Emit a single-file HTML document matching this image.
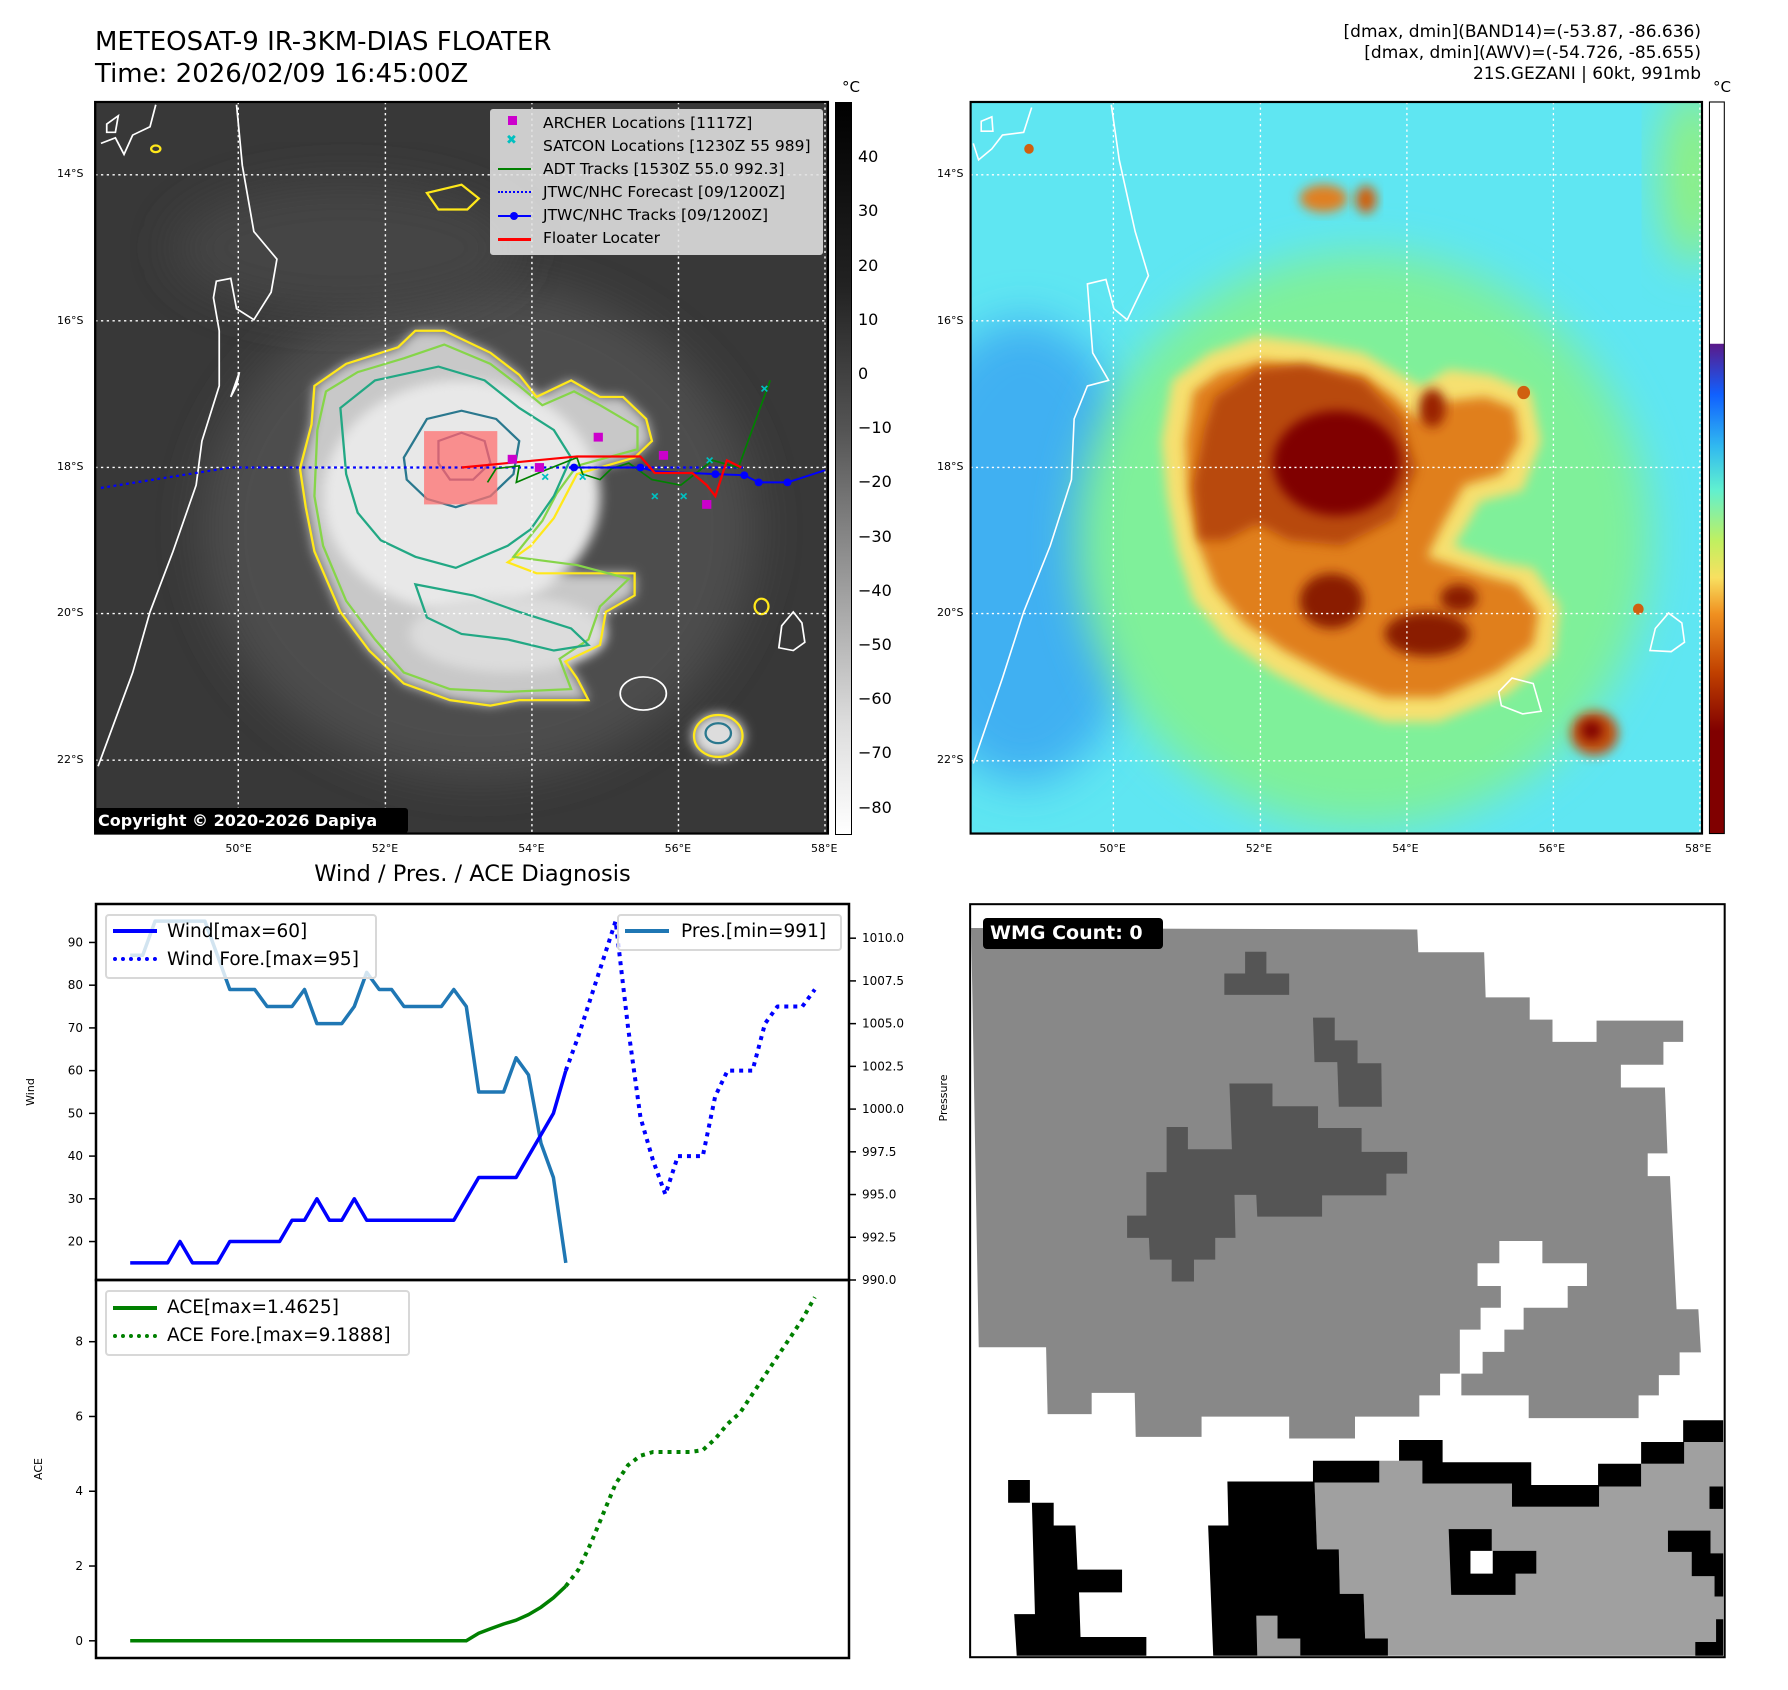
<!DOCTYPE html>
<html><head><meta charset="utf-8">
<style>
html,body{margin:0;padding:0;background:#fff;}
body{width:1788px;height:1690px;position:relative;overflow:hidden;font-family:"Liberation Sans","DejaVu Sans",sans-serif;color:#000;}
.abs{position:absolute;white-space:nowrap;}
.t{font-family:"DejaVu Sans","Liberation Sans",sans-serif;}
.lat{font-size:11px;}
.cbl{font-size:16px;}
</style></head><body>

<div class="abs t" style="left:95px;top:26px;font-size:26px;line-height:32px;">METEOSAT-9 IR-3KM-DIAS FLOATER<br>Time: 2026/02/09 16:45:00Z</div>
<div class="abs t" style="right:87px;top:22px;font-size:17px;line-height:21px;text-align:right;">[dmax, dmin](BAND14)=(-53.87, -86.636)<br>[dmax, dmin](AWV)=(-54.726, -85.655)<br>21S.GEZANI | 60kt, 991mb</div>

<!-- LEFT IR MAP -->
<svg class="abs" style="left:0;top:0" width="900" height="860" viewBox="0 0 1560 1560" preserveAspectRatio="none">
<defs>
<filter id="b1" x="-30%" y="-30%" width="160%" height="160%"><feGaussianBlur stdDeviation="40"/></filter>
<filter id="b2" x="-30%" y="-30%" width="160%" height="160%"><feGaussianBlur stdDeviation="10"/></filter>
<clipPath id="cl"><rect x="165" y="185" width="1270" height="1327"/></clipPath>
</defs>
<g clip-path="url(#cl)">
<rect x="165" y="185" width="1270" height="1327" fill="#383838"/>
<ellipse cx="830" cy="960" rx="480" ry="450" fill="#4e4e4e" filter="url(#b1)"/>
<ellipse cx="600" cy="450" rx="300" ry="120" fill="#444" filter="url(#b1)"/>
<path d="M545,700 L600,660 690,630 720,600 770,600 850,640 900,680 930,720 990,690 1040,720 1080,720 1120,760 1130,800 1100,830 1000,860 980,900 960,940 920,990 880,1020 930,1040 1000,1040 1100,1040 1100,1080 1050,1110 1040,1170 980,1200 1000,1230 1020,1270 900,1270 850,1280 780,1270 700,1240 640,1180 590,1110 545,1000 530,920 520,850 540,770Z" fill="#c8c8c8" filter="url(#b2)"/>
<ellipse cx="800" cy="900" rx="240" ry="210" fill="#e8e8e8" filter="url(#b2)"/>
<ellipse cx="880" cy="1150" rx="170" ry="70" fill="#dcdcdc" filter="url(#b2)"/>
<ellipse cx="1245" cy="1335" rx="45" ry="40" fill="#ddd" filter="url(#b2)"/>
<g fill="none" stroke-width="4">
<path d="M545,700 L600,660 690,630 720,600 770,600 850,640 900,680 930,720 990,690 1040,720 1080,720 1120,760 1130,800 1100,830 1000,860 980,900 960,940 920,990 880,1020 930,1040 1000,1040 1100,1040 1100,1080 1050,1110 1040,1170 980,1200 1000,1230 1020,1270 900,1270 850,1280 780,1270 700,1240 640,1180 590,1110 545,1000 530,920 520,850 540,770Z" stroke="#ffe81a"/>
<path d="M565,710 L620,675 700,650 770,625 850,660 900,700 940,735 995,710 1040,735 1105,775 1105,815 1000,845 965,895 940,945 890,1010 1000,1025 1090,1050 1040,1100 1020,1160 970,1195 990,1250 880,1255 780,1250 700,1220 650,1160 600,1090 560,990 545,900 550,780Z" stroke="#86d549"/>
<path d="M590,740 L650,690 760,665 840,690 900,740 960,780 990,830 960,900 920,960 880,990 790,1030 720,1010 660,980 620,930 600,860Z" stroke="#22a884"/>
<path d="M700,830 L740,760 800,745 860,760 900,800 890,860 850,900 790,920 740,905 705,870Z" stroke="#2a788e"/>
<path d="M760,800 L800,785 840,800 850,840 820,870 780,870 760,840Z" stroke="#414487"/>
<path d="M720,1060 L820,1080 900,1110 990,1140 1020,1170 960,1180 880,1160 800,1150 740,1120Z" stroke="#22a884"/>
<ellipse cx="1245" cy="1335" rx="42" ry="38" stroke="#ffe81a"/>
<ellipse cx="1245" cy="1330" rx="22" ry="18" stroke="#2a788e"/>
<path d="M740,350 L800,335 830,360 810,380 760,380Z" stroke="#ffe81a"/>
<ellipse cx="270" cy="270" rx="8" ry="6" stroke="#ffe81a"/>
<ellipse cx="1320" cy="1100" rx="12" ry="14" stroke="#ffe81a"/>
</g>
<g fill="none" stroke="#fff" stroke-width="3">
<path d="M170,1390 L230,1220 260,1110 300,1000 340,880 350,800 380,700 380,600 370,540 375,510 400,505 410,560 440,580 470,530 480,470 440,420 420,300 410,190"/>
<path d="M400,720 L415,675 410,700Z"/>
<ellipse cx="1115" cy="1258" rx="40" ry="30"/>
<path d="M1350,1175 L1355,1135 1375,1110 1390,1130 1395,1165 1375,1180Z"/>
<path d="M185,225 L205,210 200,240 185,240Z M175,260 L200,250 215,280 230,245 260,230 270,190"/>
</g>
<g stroke="#fff" stroke-width="2.5" stroke-dasharray="4,6">
<line x1="413" y1="185" x2="413" y2="1512"/><line x1="668" y1="185" x2="668" y2="1512"/><line x1="922" y1="185" x2="922" y2="1512"/><line x1="1176" y1="185" x2="1176" y2="1512"/><line x1="1430" y1="185" x2="1430" y2="1512"/>
<line x1="165" y1="317" x2="1435" y2="317"/><line x1="165" y1="582" x2="1435" y2="582"/><line x1="165" y1="848" x2="1435" y2="848"/><line x1="165" y1="1113" x2="1435" y2="1113"/><line x1="165" y1="1379" x2="1435" y2="1379"/>
</g>
<rect x="735" y="782" width="127" height="133" fill="#ff7070" opacity="0.75"/>
<polyline points="175,885 400,848 1290,848" fill="none" stroke="#0000ff" stroke-width="4" stroke-dasharray="5,6"/>
<polyline points="845,875 860,850 900,845 895,875 940,855 1000,830 1010,860 1040,870 1060,850 1090,840 1130,870 1180,880 1235,835 1280,848 1335,690" fill="none" stroke="#008000" stroke-width="3"/>
<polyline points="995,848 1110,848 1135,855 1240,860 1290,862 1315,875 1365,875 1430,853" fill="none" stroke="#0000ff" stroke-width="3.5"/>
<g fill="#0000ff"><circle cx="995" cy="848" r="7"/><circle cx="1110" cy="848" r="7"/><circle cx="1240" cy="860" r="7"/><circle cx="1290" cy="862" r="7"/><circle cx="1315" cy="875" r="7"/><circle cx="1365" cy="875" r="7"/></g>
<polyline points="800,848 1000,828 1110,828 1135,858 1200,858 1225,880 1240,900 1260,835 1285,848" fill="none" stroke="#ff0000" stroke-width="4"/>
<g fill="#cc00cc"><rect x="880" y="825" width="16" height="16"/><rect x="927" y="840" width="16" height="16"/><rect x="1029" y="785" width="16" height="16"/><rect x="1142" y="818" width="16" height="16"/><rect x="1217" y="907" width="16" height="16"/></g>
<g stroke="#00c0c0" stroke-width="3" fill="none"><path d="M1130,895 l10,10 m0,-10 l-10,10 M1180,895 l10,10 m0,-10 l-10,10 M1225,830 l10,10 m0,-10 l-10,10 M1320,700 l10,10 m0,-10 l-10,10 M1005,860 l10,10 m0,-10 l-10,10 M940,860 l10,10 m0,-10 l-10,10"/></g>
</g>
<rect x="165" y="185" width="1270" height="1327" fill="none" stroke="#000" stroke-width="4"/>
</svg>

<div class="abs" style="left:490px;top:109px;width:331px;height:144px;background:rgba(225,225,225,0.88);border:1px solid #ccc;border-radius:3px;font-size:15.5px;font-family:'DejaVu Sans','Liberation Sans',sans-serif;">
<div class="abs" style="left:17px;top:6px;width:9px;height:9px;background:#cc00cc"></div>
<div class="abs" style="left:15px;top:23px;color:#00c0c0;font-size:13px;font-weight:bold">✖</div>
<div class="abs" style="left:7px;top:58px;width:33px;height:2px;background:#008000"></div>
<div class="abs" style="left:7px;top:81px;width:33px;border-top:2px dotted #0000ff"></div>
<div class="abs" style="left:7px;top:105px;width:33px;height:2px;background:#0000ff"></div>
<div class="abs" style="left:19px;top:102px;width:8px;height:8px;border-radius:50%;background:#0000ff"></div>
<div class="abs" style="left:7px;top:128px;width:33px;height:3px;background:#ff0000"></div>
<div class="abs" style="left:52px;top:2px;line-height:23px;">ARCHER Locations [1117Z]<br>SATCON Locations [1230Z 55 989]<br>ADT Tracks [1530Z 55.0 992.3]<br>JTWC/NHC Forecast [09/1200Z]<br>JTWC/NHC Tracks [09/1200Z]<br>Floater Locater</div>
</div>
<div class="abs" style="left:94px;top:808px;width:314px;height:25px;background:#000;color:#fff;font-weight:bold;font-size:16px;line-height:25px;padding-left:4px;box-sizing:border-box;font-family:'DejaVu Sans','Liberation Sans',sans-serif;border-radius:3px;">Copyright © 2020-2026 Dapiya</div>

<div class="abs" style="left:835px;top:102px;width:15px;height:731px;border:1px solid #000;background:linear-gradient(#000 0%,#222 25%,#555 45%,#999 65%,#ddd 85%,#fff 100%);"></div>
<div class="abs t" style="left:842px;top:78px;font-size:15px">°C</div>
<div id="cbL"></div>

<!-- RIGHT MAP -->
<svg class="abs" style="left:960px;top:0" width="828" height="860" viewBox="0 0 1560 1560" preserveAspectRatio="none">
<defs>
<filter id="c1" x="-30%" y="-30%" width="160%" height="160%"><feGaussianBlur stdDeviation="40"/></filter>
<filter id="c2" x="-30%" y="-30%" width="160%" height="160%"><feGaussianBlur stdDeviation="10"/></filter>
<clipPath id="cr"><rect x="20" y="185" width="1378" height="1327"/></clipPath>
<linearGradient id="cbR" x1="0" y1="0" x2="0" y2="1">
<stop offset="0" stop-color="#fff"/><stop offset="0.33" stop-color="#fff"/><stop offset="0.331" stop-color="#5a1a8a"/><stop offset="0.4" stop-color="#1060ff"/><stop offset="0.47" stop-color="#30b8f0"/><stop offset="0.53" stop-color="#60f0d0"/><stop offset="0.6" stop-color="#c0f060"/><stop offset="0.65" stop-color="#f8e060"/><stop offset="0.7" stop-color="#f09020"/><stop offset="0.78" stop-color="#c04000"/><stop offset="0.86" stop-color="#800000"/><stop offset="1" stop-color="#800000"/></linearGradient>
</defs>
<g clip-path="url(#cr)">
<rect x="20" y="185" width="1378" height="1327" fill="#5fe6f2"/>
<ellipse cx="120" cy="1000" rx="240" ry="420" fill="#3fb0f2" filter="url(#c1)"/>
<ellipse cx="760" cy="980" rx="540" ry="520" fill="#7ff09a" filter="url(#c1)"/>
<ellipse cx="1380" cy="320" rx="60" ry="160" fill="#90f080" filter="url(#c1)"/>
<path d="M400,690 L470,640 560,610 650,620 760,640 830,680 870,700 920,670 1000,680 1075,710 1095,800 1060,890 980,910 950,960 930,990 1020,1020 1080,1030 1130,1100 1120,1190 1030,1260 900,1310 800,1310 690,1270 590,1220 500,1160 440,1090 410,1000 390,900 380,800Z" fill="#f6e070" filter="url(#c2)"/>
<path d="M440,710 L490,675 570,655 650,665 760,680 820,720 860,760 900,730 990,720 1045,740 1055,800 1020,860 950,880 910,950 880,1010 990,1045 1050,1060 1090,1110 1080,1170 1010,1220 900,1265 800,1265 710,1230 610,1180 535,1130 480,1065 450,990 430,900 425,800Z" fill="#e07f1c" filter="url(#c2)"/>
<path d="M480,720 L560,670 650,660 760,690 830,760 860,850 820,940 720,990 620,980 560,950 500,980 450,980 440,880 460,780Z" fill="#b84a08" filter="url(#c2)"/>
<ellipse cx="710" cy="840" rx="120" ry="95" fill="#800000" filter="url(#c2)"/>
<ellipse cx="700" cy="1090" rx="60" ry="50" fill="#8a1a00" filter="url(#c2)"/>
<ellipse cx="880" cy="1150" rx="80" ry="40" fill="#8a1a00" filter="url(#c2)"/>
<ellipse cx="940" cy="1085" rx="35" ry="25" fill="#8a1a00" filter="url(#c2)"/>
<ellipse cx="890" cy="740" rx="25" ry="35" fill="#9a2400" filter="url(#c2)"/>
<ellipse cx="685" cy="360" rx="45" ry="25" fill="#e08020" filter="url(#c2)"/>
<ellipse cx="765" cy="362" rx="20" ry="25" fill="#d06010" filter="url(#c2)"/>
<ellipse cx="1195" cy="1330" rx="45" ry="40" fill="#c05010" filter="url(#c2)"/>
<ellipse cx="1190" cy="1325" rx="20" ry="18" fill="#800000" filter="url(#c2)"/>
<circle cx="1062" cy="712" r="12" fill="#d06010"/><circle cx="1278" cy="1105" r="10" fill="#d06010"/><circle cx="130" cy="270" r="9" fill="#d06010"/>
<g fill="none" stroke="#fff" stroke-width="3">
<path d="M25,1385 L80,1230 120,1110 170,990 210,870 215,760 240,700 280,690 250,640 240,515 275,507 290,560 315,580 355,500 330,420 300,290 285,190"/>
<path d="M1015,1255 L1040,1230 1080,1240 1095,1290 1060,1295 1020,1280Z"/>
<path d="M1300,1180 L1310,1140 1335,1112 1360,1130 1365,1165 1340,1182Z"/>
<path d="M40,220 L60,212 62,238 40,238Z M25,260 L35,290 60,270 80,245 120,240 135,195"/>
</g>
<g stroke="#fff" stroke-width="2.5" stroke-dasharray="4,6">
<line x1="289" y1="185" x2="289" y2="1512"/><line x1="566" y1="185" x2="566" y2="1512"/><line x1="842" y1="185" x2="842" y2="1512"/><line x1="1118" y1="185" x2="1118" y2="1512"/><line x1="1394" y1="185" x2="1394" y2="1512"/>
<line x1="20" y1="317" x2="1398" y2="317"/><line x1="20" y1="582" x2="1398" y2="582"/><line x1="20" y1="848" x2="1398" y2="848"/><line x1="20" y1="1113" x2="1398" y2="1113"/><line x1="20" y1="1380" x2="1398" y2="1380"/>
</g>
</g>
<rect x="20" y="185" width="1378" height="1327" fill="none" stroke="#000" stroke-width="4"/>
<rect x="1412" y="185" width="28" height="1327" fill="url(#cbR)" stroke="#000" stroke-width="2"/>
</svg>
<div class="abs t" style="left:1713px;top:78px;font-size:15px">°C</div>
<div id="cbR"></div>
<div id="geo"></div>

<!-- WMG PANEL -->
<svg class="abs" style="left:960px;top:890px" width="790" height="790" viewBox="0 0 1560 1560" preserveAspectRatio="none">
<rect x="20" y="28" width="1490" height="1487" fill="#fff"/>
<polygon fill="#888" points="22,75 903,78 905,123 1035,123 1038,212 1125,212 1125,256 1170,256 1170,300 1257,300 1257,258 1428,258 1428,300 1389,300 1389,345 1305,345 1305,390 1392,390 1397,520 1358,520 1358,565 1402,565 1415,828 1458,828 1463,913 1421,913 1421,958 1380,958 1380,998 1340,998 1340,1043 1123,1043 1123,998 990,998 990,955 1032,955 1032,912 1075,912 1075,868 1113,868 1113,825 1200,825 1200,782 1238,782 1238,737 1150,737 1150,693 1065,693 1065,737 1022,737 1022,782 1068,782 1068,825 1028,825 1028,868 987,868 987,955 948,955 948,998 907,998 907,1040 780,1040 780,1083 650,1083 650,1040 477,1040 477,1080 347,1080 345,993 260,993 260,1035 173,1035 170,903 37,903"/>
<g fill="#555">
<polygon points="563,122 605,122 605,165 650,165 650,207 522,207 522,165 563,165"/>
<polygon points="697,252 740,252 740,297 785,297 785,342 832,342 833,428 748,428 745,340 700,340"/>
<polygon points="532,382 617,382 617,427 707,427 707,470 793,470 793,517 883,517 883,560 842,560 842,603 715,603 715,645 587,645 585,602 542,602 544,687 504,687 504,730 462,730 462,773 418,773 418,730 375,730 373,687 330,687 330,643 368,643 368,557 408,557 408,468 450,468 450,512 537,512"/>
</g>
<polygon fill="#a0a0a0" points="828,1127 913,1127 913,1172 1090,1172 1090,1218 1262,1218 1262,1178 1345,1178 1345,1133 1430,1133 1430,1090 1507,1090 1507,1512 845,1512 845,1478 800,1478 797,1390 750,1390 748,1302 705,1302 700,1170 828,1170"/>
<g fill="#000">
<polygon points="697,1127 828,1127 828,1170 697,1170"/>
<polygon points="867,1086 953,1086 953,1130 1128,1130 1128,1175 1262,1175 1262,1218 1090,1218 1090,1172 913,1172 913,1127 867,1127"/>
<polygon points="1260,1133 1345,1133 1345,1178 1260,1178"/>
<polygon points="1345,1090 1430,1090 1430,1133 1345,1133"/>
<polygon points="1428,1047 1507,1047 1507,1090 1428,1090"/>
<polygon points="1480,1178 1507,1178 1507,1222 1480,1222"/>
<polygon points="1398,1265 1482,1265 1482,1310 1507,1310 1507,1395 1490,1395 1490,1355 1445,1355 1445,1307 1398,1307"/>
<polygon points="1493,1440 1507,1440 1507,1512 1452,1512 1452,1485 1493,1485"/>
<polygon points="965,1262 1050,1262 1050,1305 1138,1305 1138,1350 1097,1350 1097,1392 970,1392"/>
<polygon points="528,1168 700,1168 705,1302 748,1302 750,1390 797,1390 800,1478 845,1478 845,1512 500,1512 490,1255 530,1255"/>
<polygon points="95,1165 138,1165 138,1210 185,1210 185,1255 228,1255 232,1342 320,1342 320,1387 235,1387 238,1475 368,1475 368,1512 112,1512 107,1430 148,1430 142,1210 95,1210"/>
</g>
<polygon fill="#fff" points="1008,1305 1052,1305 1052,1350 1008,1350"/>
<polygon fill="#a0a0a0" points="585,1433 627,1433 627,1478 672,1478 672,1512 587,1512"/>
<rect x="20" y="28" width="1490" height="1487" fill="none" stroke="#000" stroke-width="4"/>
</svg>
<div class="abs" style="left:983px;top:918px;width:180px;height:31px;background:#000;color:#fff;font-weight:bold;font-size:19px;line-height:31px;padding-left:7px;box-sizing:border-box;border-radius:4px;font-family:'DejaVu Sans','Liberation Sans',sans-serif;">WMG Count: 0</div>

<!-- DIAGNOSIS CHART -->
<div class="abs t" style="left:96px;width:753px;top:861px;text-align:center;font-size:22.5px;">Wind / Pres. / ACE Diagnosis</div>
<svg class="abs" id="chart" style="left:0;top:0" width="1000" height="1690"></svg>

<div class="abs t" style="left:105px;top:914px;width:268px;height:61px;border:2px solid #d8d8d8;border-radius:4px;background:rgba(255,255,255,0.8);font-size:18.5px;">
<div class="abs" style="left:6px;top:13px;width:44px;height:4px;background:#0000ff"></div>
<div class="abs" style="left:6px;top:41px;width:44px;border-top:4px dotted #0000ff"></div>
<div class="abs" style="left:60px;top:2px;line-height:28px;">Wind[max=60]<br>Wind Fore.[max=95]</div></div>
<div class="abs t" style="left:617px;top:914px;width:221px;height:33px;border:2px solid #d8d8d8;border-radius:4px;background:rgba(255,255,255,0.8);font-size:18.5px;">
<div class="abs" style="left:6px;top:13px;width:44px;height:4px;background:#1f77b4"></div>
<div class="abs" style="left:62px;top:2px;line-height:28px;">Pres.[min=991]</div></div>
<div class="abs t" style="left:105px;top:1290px;width:301px;height:62px;border:2px solid #d8d8d8;border-radius:4px;background:rgba(255,255,255,0.8);font-size:18.5px;">
<div class="abs" style="left:6px;top:14px;width:44px;height:4px;background:#008000"></div>
<div class="abs" style="left:6px;top:42px;width:44px;border-top:4px dotted #008000"></div>
<div class="abs" style="left:60px;top:2px;line-height:28px;">ACE[max=1.4625]<br>ACE Fore.[max=9.1888]</div></div>

<script>
const windObs=[15,15,15,15,20,15,15,15,20,20,20,20,20,25,25,30,25,25,30,25,25,25,25,25,25,25,25,30,35,35,35,35,40,45,50,60];
const windFcst=[60,68,77,86,95,70,49,39,31,40,40,40,54,60,60,60,71,75,75,75,79];
const presObs=[1009,1009,1011,1011,1011,1011,1011,1009,1007,1007,1007,1006,1006,1006,1007,1005,1005,1005,1006,1008,1007,1007,1006,1006,1006,1006,1007,1006,1001,1001,1001,1003,1002,998,996,991];
const aceObs=[0,0,0,0,0,0,0,0,0,0,0,0,0,0,0,0,0,0,0,0,0,0,0,0,0,0,0,0,0.2,0.33,0.45,0.55,0.7,0.9,1.15,1.46];
const aceFcst=[1.46,1.9,2.6,3.4,4.2,4.7,4.95,5.05,5.05,5.05,5.05,5.1,5.4,5.8,6.1,6.6,7.1,7.6,8.1,8.6,9.19];
const windTicks=[20,30,40,50,60,70,80,90];
const presTicks=[990,992.5,995,997.5,1000,1002.5,1005,1007.5,1010];
const aceTicks=[0,2,4,6,8];
const irCbTicks=[40,30,20,10,0,-10,-20,-30,-40,-50,-60,-70,-80];
const awvCbTicks=[40,30,20,10,0,-10,-20,-30,-40,-50,-60,-70,-80,-90];
const lonTicks=[50,52,54,56,58];
const latTicks=[14,16,18,20,22];

const NS='http://www.w3.org/2000/svg';
const svg=document.getElementById('chart');
const L=96,R=849,T=904,M=1280,B=1658;
const fcOff=windObs.length-1;
const nTot=fcOff+windFcst.length;
const x=i=>L+(i+2.75)/((nTot-1)+5.5)*(R-L);
const yW=v=>M-(v-11)/(99-11)*(M-T);
const yP=p=>M-(p-990)/22*(M-T);
const yA=a=>B-(a+0.46)/10.11*(B-M);
function el(tag,attrs){const e=document.createElementNS(NS,tag);for(const k in attrs)e.setAttribute(k,attrs[k]);svg.appendChild(e);return e;}
function line(vals,off,fy,color,dash,name){
  const pts=vals.map((v,i)=>x(i+off).toFixed(1)+','+fy(v).toFixed(1)).join(' ');
  const p=el('polyline',{points:pts,fill:'none',stroke:color,'stroke-width':dash?4:3.5,'stroke-dasharray':dash?'4,5':'none','stroke-linejoin':'round'});
  
  
}
function txt(s,xx,yy,anchor,size,rot){
  const t=el('text',{x:xx,y:yy,'text-anchor':anchor,'font-size':size,'font-family':'DejaVu Sans, Liberation Sans, sans-serif'});
  if(rot)t.setAttribute('transform','rotate(-90 '+xx+' '+yy+')');
  t.textContent=s;return t;
}
line(presObs,0,yP,'#1f77b4',false,'pressure-line');
line(windObs,0,yW,'#0000ff',false,'wind-line');
line(windFcst,fcOff,yW,'#0000ff',true,'wind-forecast-line');
line(aceObs,0,yA,'#008000',false,'ace-line');
line(aceFcst,fcOff,yA,'#008000',true,'ace-forecast-line');
windTicks.forEach(v=>{el('line',{x1:L-7,x2:L,y1:yW(v),y2:yW(v),stroke:'#000','stroke-width':1.5});const t=txt(v,L-13,yW(v)+4,'end',12);});
presTicks.forEach(v=>{el('line',{x1:R,x2:R+7,y1:yP(v),y2:yP(v),stroke:'#000','stroke-width':1.5});const t=txt(v.toFixed(1),R+13,yP(v)+4,'start',12);});
aceTicks.forEach(v=>{el('line',{x1:L-7,x2:L,y1:yA(v),y2:yA(v),stroke:'#000','stroke-width':1.5});const t=txt(v,L-13,yA(v)+4,'end',12);});
let a1=txt('Wind',34,1092,'middle',11,true);
let a2=txt('Pressure',947,1098,'middle',11,true);
let a3=txt('ACE',42,1469,'middle',11,true);
el('rect',{x:L,y:T,width:R-L,height:M-T,fill:'none',stroke:'#000','stroke-width':2.5});
el('rect',{x:L,y:M,width:R-L,height:B-M,fill:'none',stroke:'#000','stroke-width':2.5});

function addLabel(parentId,s,l,t,cls,name){const d=document.createElement('div');d.className='abs t '+cls;d.style.left=l+'px';d.style.top=t+'px';d.textContent=s;
  
  
  document.getElementById(parentId).appendChild(d);}
const irY=v=>102+(50.2-v)/134.9*731;
irCbTicks.forEach(v=>addLabel('cbL',(v<0?'\u2212':'')+Math.abs(v),858,irY(v)-10,'cbl','ir-colorbar-tick'));
const awvY=v=>345.6-v*4.89;
awvCbTicks.forEach(v=>addLabel('cbR',(v<0?'\u2212':'')+Math.abs(v),1731,awvY(v)-10,'cbl','awv-colorbar-tick'));
const lonX=l=>95+(l-48)*73.2;
const latY=l=>101+(l-13)*73.2;
lonTicks.forEach(l=>{addLabel('geo',l+'°E',lonX(l)-16,842,'lat','lon-label-left');addLabel('geo',l+'°E',lonX(l)+874-16,842,'lat','lon-label-right');});
latTicks.forEach(l=>{addLabel('geo',l+'°S',57,latY(l)-7,'lat','lat-label-left');addLabel('geo',l+'°S',937,latY(l)-7,'lat','lat-label-right');});
</script>
</body></html>
